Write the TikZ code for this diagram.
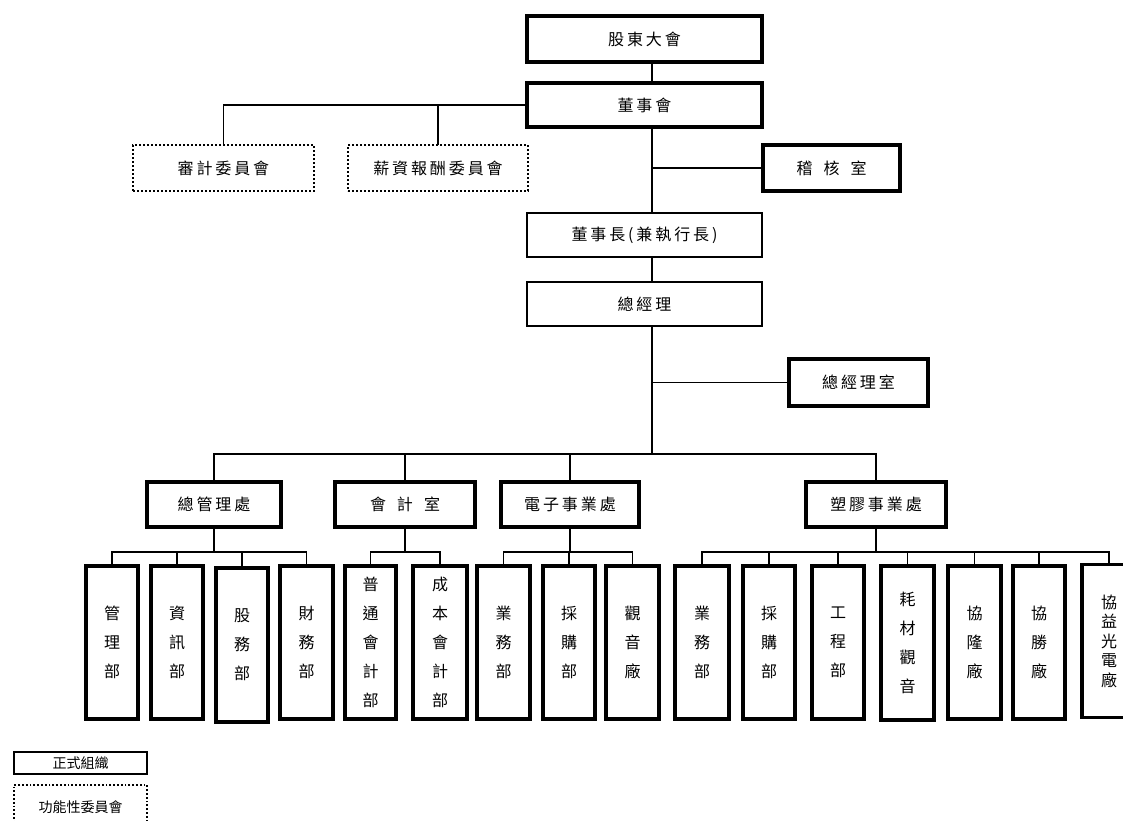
\documentclass[tikz,border=0pt]{standalone}
\usepackage{fontspec}
\newfontfamily\cjk[LetterSpace=18]{Noto Sans CJK TC}
\newfontfamily\cjkv{Noto Sans CJK TC}
\begin{document}
\begin{tikzpicture}[x=1pt,y=-1pt,
  formal/.style={draw=black,line width=3.2pt,inner sep=0pt,outer sep=0pt,
    font=\cjk\fontsize{16}{19}\selectfont},
  plainbox/.style={draw=black,line width=1.5pt,inner sep=0pt,outer sep=0pt,
    font=\cjk\fontsize{16}{19}\selectfont},
  committee/.style={draw=black,dotted,line width=2pt,inner sep=0pt,outer sep=0pt,
    font=\cjk\fontsize{16}{19}\selectfont},
  unit/.style={draw=black,line width=3.2pt,inner sep=0pt,outer sep=0pt,
    minimum width=52pt,minimum height=153pt,align=center,
    font=\cjkv\fontsize{16}{29}\selectfont},
  legendf/.style={draw=black,line width=2.6pt,inner sep=0pt,outer sep=0pt,
    minimum width=133pt,font=\cjkv\fontsize{14}{16}\selectfont},
  legendc/.style={draw=black,dotted,line width=1.8pt,inner sep=0pt,outer sep=0pt,
    minimum width=133pt,font=\cjkv\fontsize{14}{16}\selectfont},
  conn/.style={draw=black,line width=1.6pt}]
\useasboundingbox (0,0) rectangle (1123,820);
\clip (0,0) rectangle (1123,820);
\fill[white] (0,0) rectangle (1123,820);

\coordinate (spine) at (652,0);
\coordinate (mainbar) at (0,454);
\coordinate (subbar) at (0,552);

% top levels
\node[formal,minimum width=235pt,minimum height=46pt] (gd) at (644.5,39) {股東大會};
\node[formal,minimum width=235pt,minimum height=44pt] (bd) at (644.5,105) {董事會};
\node[committee,minimum width=181pt,minimum height=46pt] (audit) at (223.5,168) {審計委員會};
\node[committee,minimum width=180pt,minimum height=46pt] (pay) at (438,168) {薪資報酬委員會};
\node[formal,minimum width=137pt,minimum height=46pt] (ia) at (831.5,168) {稽\hspace{11pt}核\hspace{11pt}室};
\node[plainbox,minimum width=235pt,minimum height=44pt] (ch) at (644.5,235) {董事長(兼執行長)};
\node[plainbox,minimum width=235pt,minimum height=44pt] (gm) at (644.5,304) {總經理};
\node[formal,minimum width=139pt,minimum height=47pt] (gmo) at (858.5,382.5) {總經理室};

% divisions
\node[formal,minimum width=134pt,minimum height=45pt] (d1) at (214,504.5) {總管理處};
\node[formal,minimum width=140pt,minimum height=45pt] (d2) at (405,504.5) {會\hspace{11pt}計\hspace{11pt}室};
\node[formal,minimum width=138pt,minimum height=45pt] (d3) at (570,504.5) {電子事業處};
\node[formal,minimum width=140pt,minimum height=45pt] (d4) at (876,504.5) {塑膠事業處};

% units
\node[unit] (b1) at (112,642.5) {管\\理\\部};
\node[unit] (b2) at (177,642.5) {資\\訊\\部};
\node[unit,minimum height=154pt] (b3) at (242,645) {股\\務\\部};
\node[unit,minimum width=53pt] (b4) at (306.5,642.5) {財\\務\\部};
\node[unit,minimum width=51pt] (b5) at (370.5,642.5) {普\\通\\會\\計\\部};
\node[unit,minimum width=54pt] (b6) at (440,642.5) {成\\本\\會\\計\\部};
\node[unit,minimum width=53pt] (b7) at (503.5,642.5) {業\\務\\部};
\node[unit] (b8) at (569,642.5) {採\\購\\部};
\node[unit,minimum width=53pt] (b9) at (632.5,642.5) {觀\\音\\廠};
\node[unit,minimum width=54pt] (b10) at (702,642.5) {業\\務\\部};
\node[unit] (b11) at (769,642.5) {採\\購\\部};
\node[unit] (b12) at (838,642.5) {工\\程\\部};
\node[unit,minimum width=53pt,minimum height=154pt] (b13) at (907.5,643) {耗\\材\\觀\\音};
\node[unit,minimum width=53pt] (b14) at (974.5,642.5) {協\\隆\\廠};
\node[unit] (b15) at (1039,642.5) {協\\勝\\廠};
\node[unit,minimum width=54pt,font=\cjkv\fontsize{16}{19.5}\selectfont] (b16) at (1109,641) {協\\益\\光\\電\\廠};

% legend
\node[legendf,minimum height=22pt] (leg1) at (80.5,763) {正式組織};
\node[legendc,minimum height=44pt] (leg2) at (80.5,807) {功能性委員會};

% connectors: spine
\draw[conn] (gd.south -| spine) -- (bd.north -| spine);
\draw[conn] (bd.south -| spine) -- (ch.north -| spine);
\draw[conn] (ia.west -| spine) -- (ia.west);
\draw[conn] (bd.west) -- (bd.west -| audit.north) -- (audit.north);
\draw[conn] (pay.north) -- (pay.north |- bd.west);
\draw[conn] (ch.south -| spine) -- (gm.north -| spine);
\draw[conn] (gm.south -| spine) -- (mainbar -| spine);
\draw[conn] (gmo.west -| spine) -- (gmo.west);

% main bar to divisions
\draw[conn] (d1.north) -- (d1.north |- mainbar) -- (d4.north |- mainbar) -- (d4.north);
\draw[conn] (d2.north) -- (d2.north |- mainbar);
\draw[conn] (d3.north) -- (d3.north |- mainbar);

% group 1
\draw[conn] (d1.south) -- (d1.south |- subbar);
\draw[conn] (b1.north) -- (b1.north |- subbar) -- (b4.north |- subbar) -- (b4.north);
\draw[conn] (b2.north) -- (b2.north |- subbar);
\draw[conn] (b3.north) -- (b3.north |- subbar);
% group 2
\draw[conn] (d2.south) -- (d2.south |- subbar);
\draw[conn] (b5.north) -- (b5.north |- subbar) -- (b6.north |- subbar) -- (b6.north);
% group 3
\draw[conn] (d3.south) -- (d3.south |- subbar);
\draw[conn] (b7.north) -- (b7.north |- subbar) -- (b9.north |- subbar) -- (b9.north);
\draw[conn] (b8.north) -- (b8.north |- subbar);
% group 4
\draw[conn] (d4.south) -- (d4.south |- subbar);
\draw[conn] (b10.north) -- (b10.north |- subbar) -- (b16.north |- subbar) -- (b16.north);
\draw[conn] (b11.north) -- (b11.north |- subbar);
\draw[conn] (b12.north) -- (b12.north |- subbar);
\draw[conn] (b13.north) -- (b13.north |- subbar);
\draw[conn] (b14.north) -- (b14.north |- subbar);
\draw[conn] (b15.north) -- (b15.north |- subbar);
\end{tikzpicture}
\end{document}
